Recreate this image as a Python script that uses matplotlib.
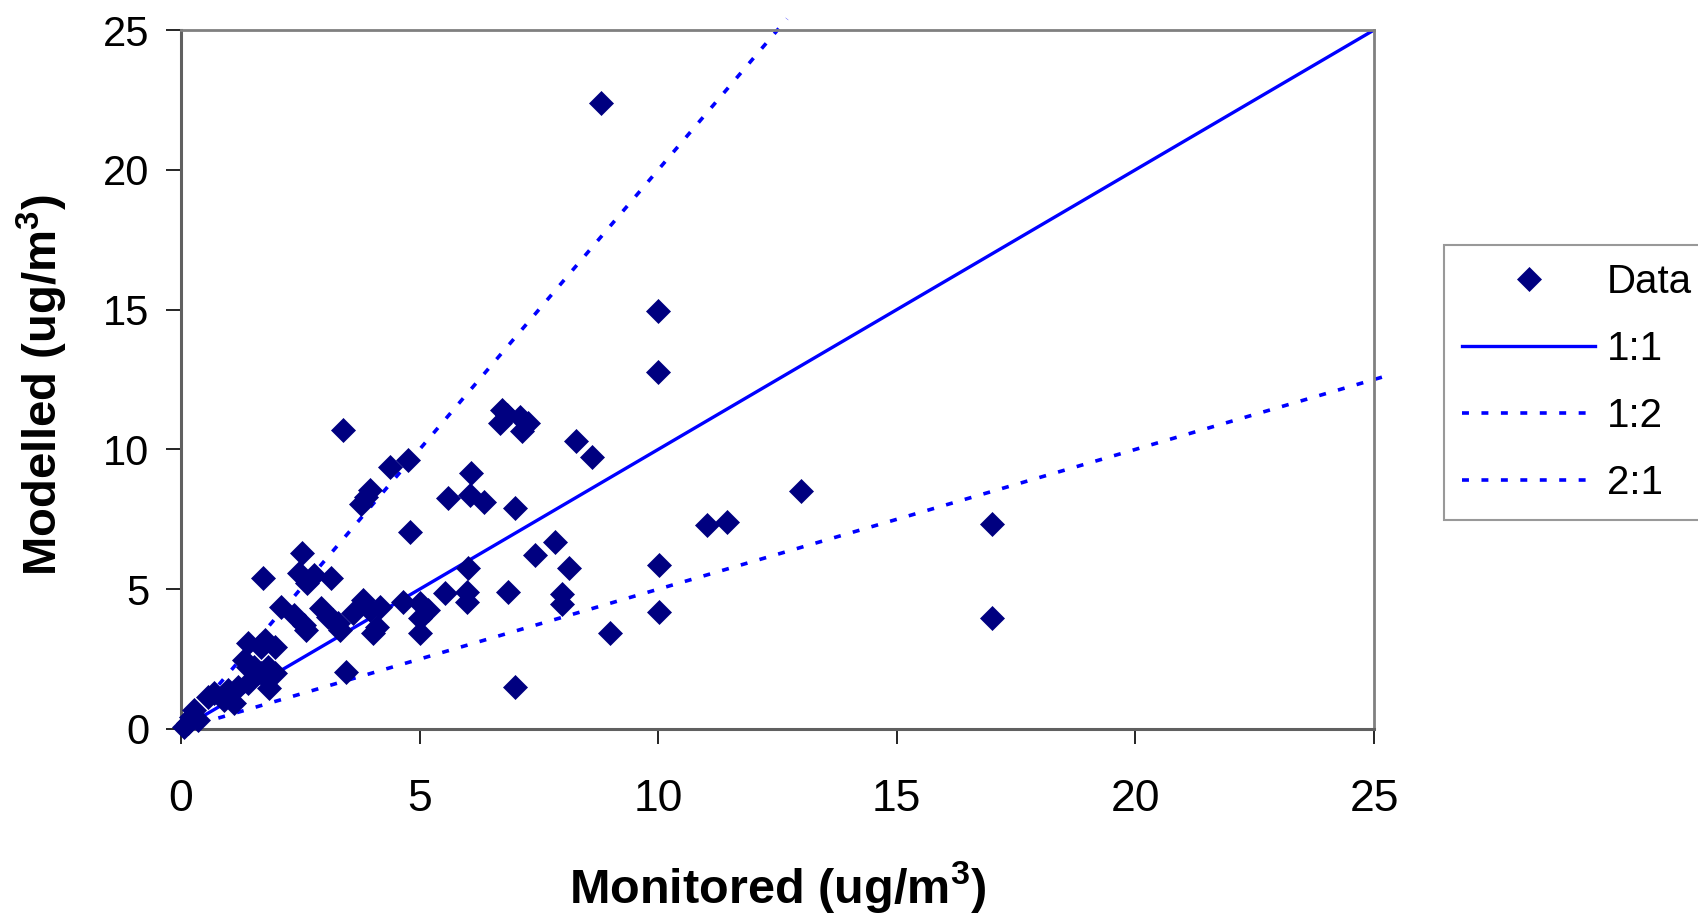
import matplotlib
matplotlib.use("Agg")
import matplotlib.pyplot as plt
import numpy as np

plt.rcParams['font.family'] = ['Liberation Sans', 'DejaVu Sans']
plt.rcParams['mathtext.fontset'] = 'custom'
plt.rcParams['mathtext.rm'] = 'Liberation Sans'
plt.rcParams['mathtext.bf'] = 'Liberation Sans:bold'

# Data (monitored vs modelled, ug/m3)
monitored = [
    8.81, 10.0, 10.0, 3.40,
    6.72, 6.83, 7.10, 7.28, 6.68, 7.14,
    8.27, 8.62, 4.75, 4.38,
    3.96, 3.77, 3.88, 6.08,
    5.59, 6.06, 6.34, 7.00, 4.80,
    12.99, 11.02, 11.44, 17.0, 17.0,
    7.84, 7.42, 8.13, 10.02, 10.02,
    6.02, 6.86, 7.98, 7.98, 8.98, 7.00,
    5.53, 5.99, 5.99,
    4.66, 5.01, 5.18, 5.01, 5.01,
    4.17, 4.10, 4.03, 3.96, 3.82, 3.61,
    2.93, 3.07, 3.28, 3.19, 3.33,
    2.10, 2.37, 2.58, 2.62,
    1.71, 2.53, 2.48, 2.79, 3.14, 2.65,
    3.46, 1.85,
    1.75, 1.68, 1.40, 1.96,
    1.33, 1.54, 1.82, 1.96, 1.68, 1.40,
    1.19, 1.40, 0.98, 0.70, 0.56, 0.91, 1.12,
    0.28, 0.21, 0.35, 0.14, 0.07,
]
modelled = [
    22.40, 14.95, 12.77, 10.70,
    11.41, 11.23, 11.17, 10.93, 10.93, 10.65,
    10.31, 9.72, 9.62, 9.36,
    8.55, 8.03, 8.30, 9.14,
    8.25, 8.37, 8.13, 7.92, 7.06,
    8.51, 7.30, 7.42, 7.34, 3.96,
    6.70, 6.22, 5.75, 5.87, 4.17,
    5.75, 4.90, 4.82, 4.47, 3.44, 1.51,
    4.85, 4.91, 4.55,
    4.55, 4.50, 4.26, 3.96, 3.42,
    4.37, 3.66, 3.42, 4.26, 4.61, 4.14,
    4.32, 4.02, 3.78, 3.90, 3.54,
    4.37, 4.08, 3.72, 3.54,
    5.39, 6.28, 5.57, 5.51, 5.39, 5.21,
    2.05, 1.46,
    3.18, 2.94, 3.06, 2.94,
    2.47, 2.23, 2.23, 1.99, 1.99, 2.23,
    1.51, 1.63, 1.39, 1.27, 1.16, 1.04, 0.92,
    0.68, 0.44, 0.32, 0.20, 0.08,
]

# Reference lines
line_11_x = [0, 25]
line_12_x = [0, 25.3]
line_21_x = [0, 12.7]

x_ticks = [0, 5, 10, 15, 20, 25]
y_ticks = [0, 5, 10, 15, 20, 25]
legend_labels = ["Data", "1:1", "1:2", "2:1"]

W, H = 1699, 917
fig = plt.figure(figsize=(W / 100, H / 100), dpi=100)
ax = fig.add_axes([181 / W, 1 - 729 / H, 1193 / W, 699 / H])

navy = '#000080'
blue = '#0000FF'
dash_pat = (5.0, 9.0)

ax.plot(monitored, modelled, linestyle='none', marker='D', markersize=12,
        markerfacecolor=navy, markeredgecolor=navy, markeredgewidth=0.5,
        label=legend_labels[0], zorder=3, clip_on=False)
ax.plot(line_11_x, [v for v in line_11_x], color=blue, lw=2.4,
        label=legend_labels[1], zorder=2)
l12, = ax.plot(line_12_x, [v * 0.5 for v in line_12_x], color=blue, lw=2.6,
               label=legend_labels[2], zorder=2, clip_on=False)
l21, = ax.plot(line_21_x, [v * 2 for v in line_21_x], color=blue, lw=2.6,
               label=legend_labels[3], zorder=2, clip_on=False)
for ln in (l12, l21):
    ln.set_linestyle((0, (dash_pat[0] / 2.6, dash_pat[1] / 2.6)))
    ln.set_dash_capstyle('butt')

ax.set_xlim(0, 25)
ax.set_ylim(0, 25)
ax.set_xticks(x_ticks)
ax.set_yticks(y_ticks)
ax.set_xticklabels([str(t) for t in x_ticks], fontsize=32)
ax.set_yticklabels([str(t) for t in y_ticks], fontsize=30)
ax.tick_params(axis='x', direction='out', length=11, width=1.2, pad=25, color='#000000')
ax.tick_params(axis='y', direction='out', length=11, width=1.2, pad=12, color='#000000')

for side in ['top', 'right']:
    ax.spines[side].set_color('#808080')
    ax.spines[side].set_linewidth(2)
for side in ['left', 'bottom']:
    ax.spines[side].set_color('#606060')
    ax.spines[side].set_linewidth(2.2)

ax.set_xlabel(r'Monitored (ug/m$^{\mathbf{3}}$)', fontsize=35, fontweight='bold', va='center')
ax.xaxis.set_label_coords(0.50, -0.227)
ax.set_ylabel(r'Modelled (ug/m$^{\mathbf{3}}$)', fontsize=34, fontweight='bold', va='center')
ax.yaxis.set_label_coords(-0.116, 0.492)

leg = fig.legend(loc='upper left', bbox_to_anchor=(1444 / W, 1 - 245 / H),
                 fontsize=29, frameon=True, fancybox=False, shadow=False,
                 handlelength=3.3, handletextpad=0.3, borderpad=0.45,
                 labelspacing=0.72, numpoints=1, borderaxespad=0)
leg.get_frame().set_edgecolor('#808080')
leg.get_frame().set_linewidth(1.5)

fig.savefig('out.png', dpi=100)
